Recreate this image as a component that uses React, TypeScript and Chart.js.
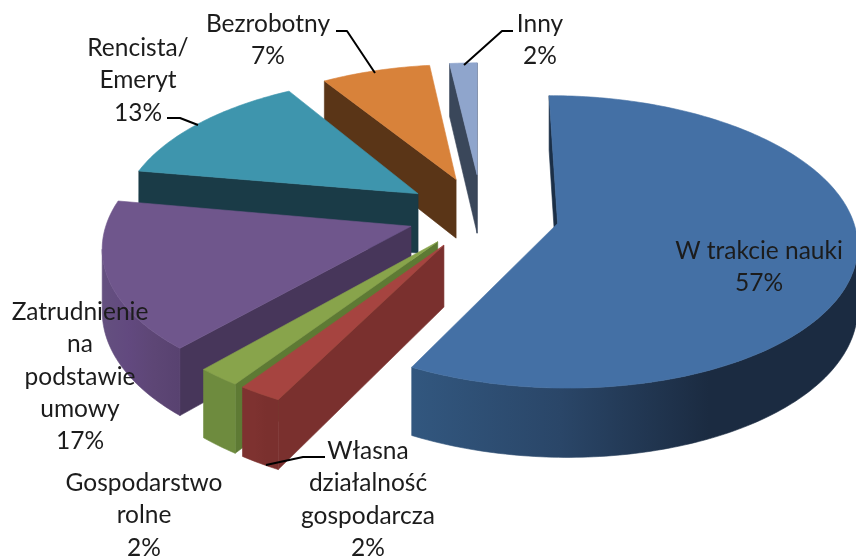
import React, { useEffect, useRef } from "react";
import { Chart, registerables } from "chart.js";

Chart.register(...registerables);

const categories = [
  "W trakcie nauki",
  "Własna działalność gospodarcza",
  "Gospodarstwo rolne",
  "Zatrudnienie na podstawie umowy",
  "Rencista/ Emeryt",
  "Bezrobotny",
  "Inny",
];
const shares = [57, 2, 2, 17, 13, 7, 2];
const explode = [78, 73, 71, 75, 79, 80, 86];
const labelLines = [
  ["W trakcie nauki"],
  ["Własna", "działalność", "gospodarcza"],
  ["Gospodarstwo", "rolne"],
  ["Zatrudnienie", "na", "podstawie", "umowy"],
  ["Rencista/", "Emeryt"],
  ["Bezrobotny"],
  ["Inny"],
];

// styles per slice
const topColors = ["#4470A5", "#A64440", "#88A44B", "#6F568C", "#3E95AD", "#D8823A", "#8FA5CC"];
const sideColors = ["#1B2F47", "#7A302E", "#5E7A34", "#47365A", "#1A3B47", "#5A3517", "#3A475A"];
const arcStops = [
  ["#32577F", "#2A4668", "#1B2B41", "#1B2B41"],
  ["#7E3230", "#7E3230", "#7A302E", "#7A302E"],
  ["#6E8B3E", "#6E8B3E", "#6E8B3E", "#6E8B3E"],
  ["#64507F", "#62497F", "#5D4675", "#584270"],
  ["#1A3B47", "#1A3B47", "#1A3B47", "#1A3B47"],
  ["#5A3517", "#5A3517", "#5A3517", "#5A3517"],
  ["#3A475A", "#3A475A", "#3A475A", "#3A475A"],
];
// camera lens correction: degrees added to each slice's start / end, and the radius seen there
const startNudge = [0, 2.1, 2.0, 2.2, -1.1, 0, 0.6];
const endNudge = [2.5, 2.1, 2.0, -0.8, 0.6, 0.5, 0];
const startRadius = [295, 307, 309, 305, 298, 283.5, 278];
const endRadius = [299, 307, 309, 305, 287, 283.5, 278];
// label anchor (centre x, middle y of the first line)
const labelAnchors = [
  [759, 251],
  [368, 451],
  [144, 483],
  [80, 312],
  [138, 48],
  [268, 24],
  [540, 24],
];
const leaders: (number[][] | null)[] = [
  null,
  [[266, 465], [303, 457], [325, 457]],
  null,
  null,
  [[198, 125], [180, 118], [167, 118]],
  [[375, 73], [347, 31], [336, 31]],
  [[464, 65], [502, 31], [513, 31]],
];

// camera
const X0 = 478;
const Y_HORIZON = -970;
const H = 1195;
const D = 2458;
const THICK = 61;
const CX = 4;
const CZ = -22;
const DRAW_ORDER = [0, 6, 5, 4, 3, 2, 1];
const LINE_STEP = 32.3;
const DEG = Math.PI / 180;

function project(X: number, Z: number, h: number): [number, number] {
  const s = 1 / (1 - Z / D);
  return [X0 + X * s, Y_HORIZON + (H + h) * s];
}

const pie3d = {
  id: "pie3d",
  beforeDatasetsDraw(chart: any) {
    const ctx: CanvasRenderingContext2D = chart.ctx;
    const meta = chart.getDatasetMeta(0);
    const poly = (pts: [number, number][], fill: any) => {
      ctx.beginPath();
      pts.forEach((p, i) => (i ? ctx.lineTo(p[0], p[1]) : ctx.moveTo(p[0], p[1])));
      ctx.closePath();
      ctx.fillStyle = fill;
      ctx.fill();
      ctx.strokeStyle = fill;
      ctx.lineWidth = 0.6;
      ctx.stroke();
    };
    DRAW_ORDER.forEach((i) => {
      const el = meta.data[i];
      const a0 = el.startAngle + startNudge[i] * DEG;
      const a1 = el.endAngle + endNudge[i] * DEG;
      const mid = (a0 + a1) / 2;
      const e = el.options.offset;
      const ax = CX + Math.cos(mid) * e;
      const az = CZ + Math.sin(mid) * e;
      const n = Math.max(4, Math.ceil((a1 - a0) / DEG));
      const world: [number, number][] = [];
      for (let k = 0; k <= n; k++) {
        const a = a0 + ((a1 - a0) * k) / n;
        const r = startRadius[i] + ((endRadius[i] - startRadius[i]) * k) / n;
        world.push([ax + Math.cos(a) * r, az + Math.sin(a) * r]);
      }
      const outline: [number, number][] = [[ax, az], ...world, [ax, az]];
      // radial walls
      [[0, 1], [outline.length - 2, outline.length - 1]].forEach(([p, q]) => {
        const a = project(outline[p][0], outline[p][1], 0);
        const b = project(outline[q][0], outline[q][1], 0);
        if (b[0] - a[0] < 0) {
          poly(
            [a, b, project(outline[q][0], outline[q][1], THICK), project(outline[p][0], outline[p][1], THICK)],
            sideColors[i]
          );
        }
      });
      // outer wall, only the parts that face the viewer
      const top = world.map((w) => project(w[0], w[1], 0));
      const bot = world.map((w) => project(w[0], w[1], THICK));
      const xs = top.map((p) => p[0]);
      const minX = Math.min(...xs);
      const maxX = Math.max(...xs);
      const grad = ctx.createLinearGradient(minX, 0, maxX, 0);
      arcStops[i].forEach((c, k) => grad.addColorStop(k / 3, c));
      const upper: [number, number][] = [];
      const lower: [number, number][] = [];
      for (let k = 0; k < top.length; k++) {
        const faces =
          (k + 1 < top.length && top[k + 1][0] < top[k][0]) || (k > 0 && top[k][0] < top[k - 1][0]);
        if (faces) {
          upper.push(top[k]);
          lower.push(bot[k]);
        }
      }
      if (upper.length > 1) poly([...upper, ...lower.reverse()], grad);
      // top face
      poly(outline.map((w) => project(w[0], w[1], 0)), topColors[i]);
    });
    return false;
  },
  afterDraw(chart: any) {
    const ctx: CanvasRenderingContext2D = chart.ctx;
    ctx.save();
    ctx.strokeStyle = "#000000";
    ctx.lineWidth = 2;
    ctx.lineJoin = "round";
    leaders.forEach((pts) => {
      if (!pts) return;
      ctx.beginPath();
      pts.forEach((p, i) => (i ? ctx.lineTo(p[0], p[1]) : ctx.moveTo(p[0], p[1])));
      ctx.stroke();
    });
    ctx.fillStyle = "#1c1c1c";
    ctx.font = '24.5px "Lato"';
    ctx.textAlign = "center";
    ctx.textBaseline = "middle";
    labelLines.forEach((lines, i) => {
      const [x, y] = labelAnchors[i];
      [...lines, shares[i] + "%"].forEach((t, k) => ctx.fillText(t, x, y + k * LINE_STEP));
    });
    ctx.restore();
  },
};

export default function App() {
  const ref = useRef<HTMLCanvasElement>(null);
  useEffect(() => {
    document.body.style.margin = "0";
    const chart = new Chart(ref.current as HTMLCanvasElement, {
      type: "pie",
      data: {
        labels: categories,
        datasets: [{ data: shares, offset: explode, backgroundColor: topColors, borderWidth: 0 }],
      },
      options: {
        animation: false,
        responsive: false,
        plugins: { legend: { display: false }, tooltip: { enabled: false } },
      },
      plugins: [pie3d],
    } as any);
    return () => chart.destroy();
  }, []);
  return (
    <canvas
      ref={ref}
      width={856}
      height={557}
      style={{ display: "block", width: 856, height: 557, background: "#ffffff" }}
    />
  );
}
